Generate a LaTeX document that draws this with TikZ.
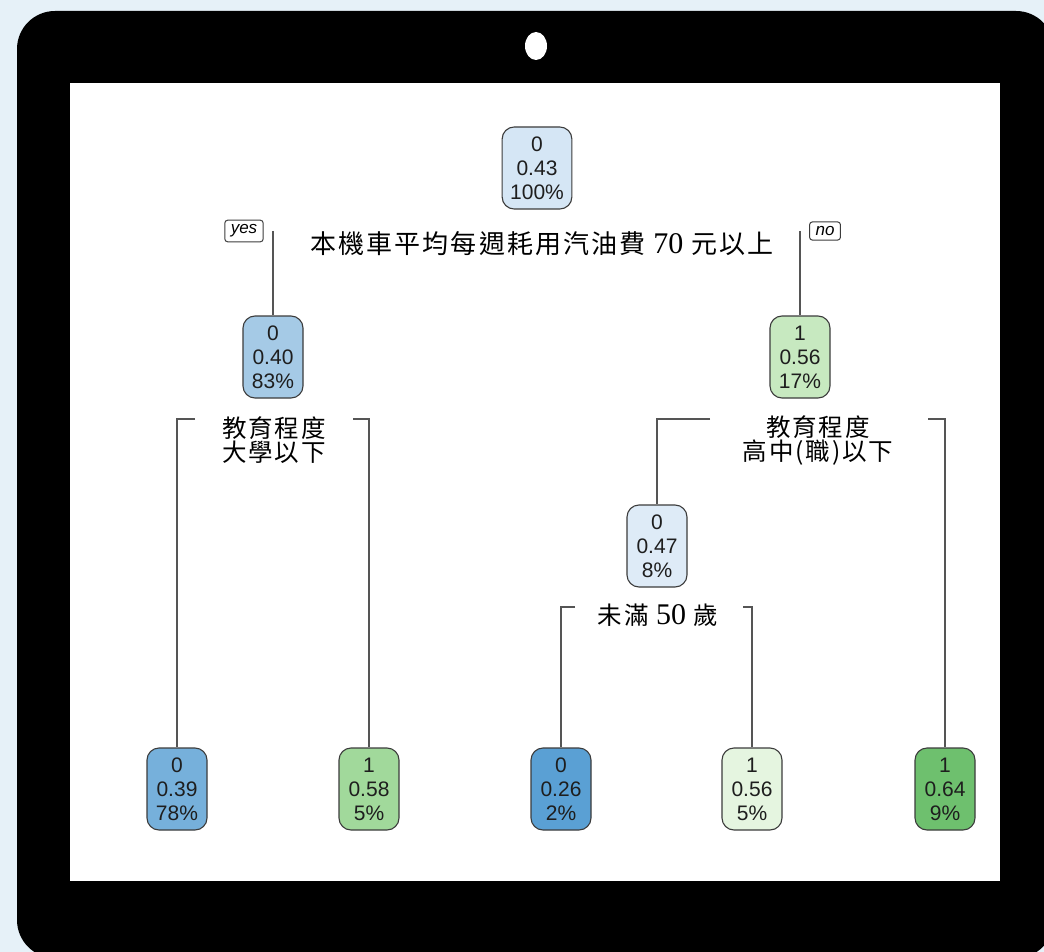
\documentclass[tikz,border=0pt]{standalone}
\usepackage{fontspec}
\setmainfont{Liberation Sans}
\newfontfamily\cjk[LetterSpace=8]{Noto Sans CJK TC}
\newfontfamily\serifnum{Liberation Serif}
\definecolor{bgblue}{RGB}{230,241,248}
\definecolor{nodeborder}{RGB}{60,60,60}
\definecolor{branchgray}{RGB}{85,85,85}
\definecolor{nodetext}{RGB}{30,30,30}
\definecolor{blueA}{RGB}{213,230,245}
\definecolor{blueB}{RGB}{165,202,230}
\definecolor{blueC}{RGB}{222,235,247}
\definecolor{blueD}{RGB}{118,176,219}
\definecolor{blueE}{RGB}{90,160,212}
\definecolor{greenA}{RGB}{199,233,192}
\definecolor{greenB}{RGB}{161,217,155}
\definecolor{greenC}{RGB}{229,245,224}
\definecolor{greenD}{RGB}{110,192,110}
\newcommand{\bignum}[1]{{\serifnum\fontsize{30}{24}\selectfont #1}}

\begin{document}
\begin{tikzpicture}[x=1pt,y=-1pt,
    treenode/.style={draw=nodeborder, line width=1.1pt, rounded corners=12pt,
        minimum width=60pt, minimum height=82pt, inner xsep=8pt, align=center,
        text=nodetext, font=\fontsize{21}{24}\selectfont},
    splitlabel/.style={inner sep=0pt, align=center, text=black,
        font=\cjk\fontsize{24.5}{24}\selectfont},
    answer/.style={draw=nodeborder, line width=1pt, rounded corners=3pt,
        inner xsep=6pt, inner ysep=4.5pt, font=\itshape\fontsize{17}{17}\selectfont},
    branch/.style={draw=branchgray, line width=1.3pt}]
    % tablet frame
    \clip (0,0) rectangle (1044,952);
    \fill[bgblue] (0,0) rectangle (1044,952);
    \fill[black, rounded corners=38pt] (17,11) rectangle (1054,958);
    \fill[white] (70,83) rectangle (1000,881);
    \fill[white] (536,46) ellipse (11 and 14);

    % tree nodes
    \node[treenode, fill=blueA] (root) at (537,168) {0\\0.43\\100\%};
    \node[treenode, fill=blueB] (edu) at (273,357) {0\\0.40\\83\%};
    \node[treenode, fill=greenA] (school) at (800,357) {1\\0.56\\17\%};
    \node[treenode, fill=blueC] (age) at (657,546) {0\\0.47\\8\%};
    \node[treenode, fill=blueD] (leafa) at (177,789) {0\\0.39\\78\%};
    \node[treenode, fill=greenB] (leafb) at (369,789) {1\\0.58\\5\%};
    \node[treenode, fill=blueE] (leafc) at (561,789) {0\\0.26\\2\%};
    \node[treenode, fill=greenC] (leafd) at (752,789) {1\\0.56\\5\%};
    \node[treenode, fill=greenD] (leafe) at (945,789) {1\\0.64\\9\%};

    % split labels
    \node[splitlabel, font=\cjk\fontsize{26}{24}\selectfont] (fuel) at (542,244)
        {本機車平均每週耗用汽油費 \bignum{70} 元以上};
    \node[splitlabel] (edulbl) at (274,440) {教育程度\\大學以下};
    \node[splitlabel] (schoollbl) at (818,440) {教育程度\\高中(職)以下};
    \node[splitlabel] (agelbl) at (658,615) {未滿 \bignum{50} 歲};
    \node[answer] (yes) at (244,231) {yes};
    \node[answer] (no) at (825,231) {no};

    % branches
    \draw[branch] (edu.north |- yes.center) -- (edu.north);
    \draw[branch] (school.north |- no.center) -- (school.north);
    \coordinate (edul) at (195,419);
    \coordinate (edur) at (353,419);
    \coordinate (schooll) at (710,419);
    \coordinate (schoolr) at (928,419);
    \coordinate (agel) at (575,607);
    \coordinate (ager) at (743,607);
    \draw[branch] (edul) -| (leafa.north);
    \draw[branch] (edur) -| (leafb.north);
    \draw[branch] (schooll) -| (age.north);
    \draw[branch] (schoolr) -| (leafe.north);
    \draw[branch] (agel) -| (leafc.north);
    \draw[branch] (ager) -| (leafd.north);
\end{tikzpicture}
\end{document}
